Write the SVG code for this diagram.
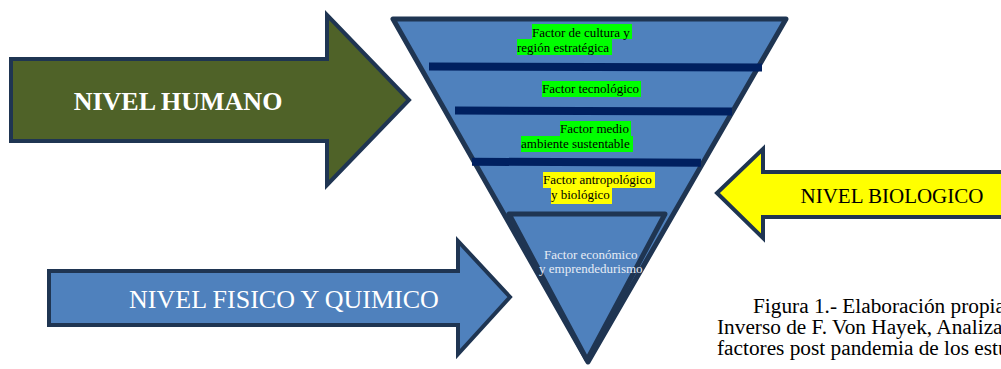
<svg xmlns="http://www.w3.org/2000/svg" width="1001" height="369" viewBox="0 0 1001 369">
<style>
.arrow{stroke:#1f3552;stroke-width:4;stroke-linejoin:miter}
.tri{fill:#4f81bd;stroke:#1f3552;stroke-width:5;stroke-linejoin:round}
.sep{stroke:#002060;stroke-width:8}
.f{font-family:"Liberation Serif","Times New Roman",serif;font-size:13px;fill:#000}
.big{font-family:"Liberation Serif","Times New Roman",serif;font-size:26px}
.cap{font-family:"Liberation Serif","Times New Roman",serif;font-size:21.3px;fill:#000}
</style>
<rect width="1001" height="369" fill="#fff"/>
<g id="pyramid">
<polygon class="tri" points="393,19 786,19 588,362"/>
<polygon class="tri" points="509,214 665,214 587,360"/>
</g>
<g id="connectors">
<line class="sep" x1="429" y1="66.5" x2="762" y2="67.5"/>
<line class="sep" x1="455" y1="110.5" x2="732" y2="111.5"/>
<line class="sep" x1="472" y1="161.7" x2="701" y2="162.8"/>
</g>
<g id="factor-cultura">
<rect x="532" y="24" width="100" height="15" fill="#00ff00"/>
<rect x="517" y="39" width="95" height="16" fill="#00ff00"/>
<text class="f" x="532" y="37">Factor de cultura y</text>
<text class="f" x="517" y="52">región estratégica</text>
</g>
<g id="factor-tecnologico">
<rect x="542" y="81" width="99" height="16" fill="#00ff00"/>
<text class="f" x="542" y="93">Factor tecnológico</text>
</g>
<g id="factor-medio">
<rect x="560" y="121" width="71" height="15" fill="#00ff00"/>
<rect x="521" y="136" width="112" height="16" fill="#00ff00"/>
<text class="f" x="560" y="133">Factor medio</text>
<text class="f" x="521" y="148">ambiente sustentable</text>
</g>
<g id="factor-antropologico">
<rect x="543" y="172" width="112" height="16" fill="#ffff00"/>
<rect x="551" y="188" width="61" height="16" fill="#ffff00"/>
<text class="f" x="543" y="184">Factor antropológico</text>
<text class="f" x="551" y="199">y biológico</text>
</g>
<g id="factor-economico">
<text class="f" x="544" y="259" style="fill:#e6ecf5">Factor económico</text>
<text class="f" x="539" y="273" style="fill:#e6ecf5">y emprendedurismo</text>
</g>
<g id="nivel-humano">
<polygon class="arrow" fill="#4f6228" points="11,59 327,59 327,15 409,100 327,185 327,141 11,141"/>
<text class="big" x="178" y="110" text-anchor="middle" fill="#fff" font-weight="bold">NIVEL HUMANO</text>
</g>
<g id="nivel-fisico">
<polygon class="arrow" fill="#4f81bd" points="49,271 458,271 458,241 510,297 458,354 458,325 49,325"/>
<text class="big" x="284" y="308" text-anchor="middle" fill="#fff">NIVEL FISICO Y QUIMICO</text>
</g>
<g id="nivel-biologico">
<polygon class="arrow" fill="#ffff00" points="1010,172 763,172 763,149 717,193 763,238 763,217 1010,217"/>
<text class="big" x="892" y="203" text-anchor="middle" fill="#000" style="font-size:21px">NIVEL BIOLOGICO</text>
</g>
<g id="caption">
<text class="cap" x="753" y="313">Figura 1.- Elaboración propia</text>
<text class="cap" x="717" y="334">Inverso de F. Von Hayek, Analiza</text>
<text class="cap" x="717" y="355">factores post pandemia de los estu</text>
</g>
</svg>
